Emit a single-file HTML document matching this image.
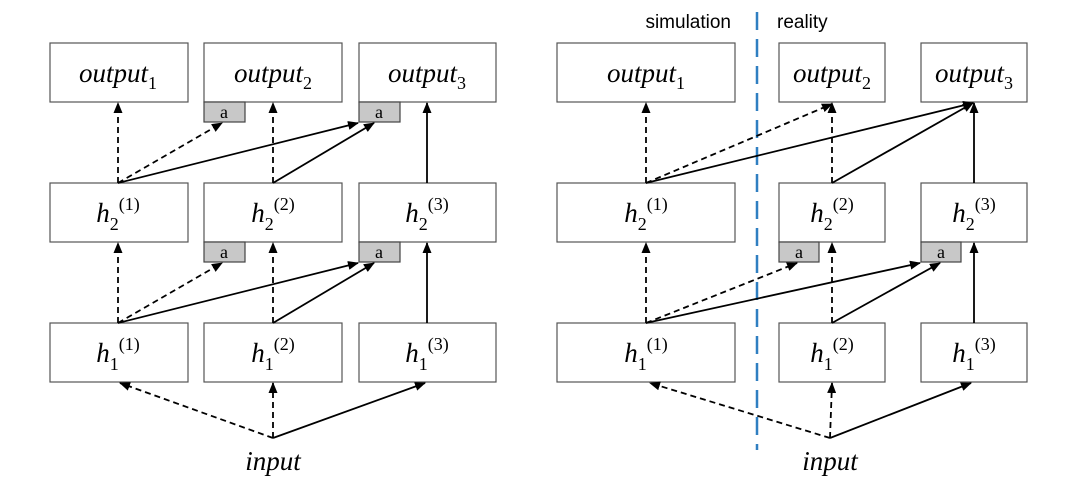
<!DOCTYPE html>
<html><head><style>
body{margin:0;background:#fff;}
svg{display:block;}
.b{fill:#fff;stroke:#555;stroke-width:1.2;}
.a{fill:#c8c8c8;stroke:#444;stroke-width:1.2;}
.s{stroke:#000;stroke-width:1.8;fill:none;marker-end:url(#ah);}
.d{stroke:#000;stroke-width:1.8;fill:none;stroke-dasharray:6,4;marker-end:url(#ah);}
.t{font-family:"Liberation Serif",serif;font-style:italic;font-size:27px;text-anchor:middle;}
.sub{font-style:normal;font-size:18px;}
.sup{font-style:normal;font-size:18px;}
.at{font-family:"Liberation Serif",serif;font-size:18px;text-anchor:middle;}
.lab{font-family:"Liberation Sans",sans-serif;font-size:19px;}
</style></head><body>
<svg width="1080" height="487" viewBox="0 0 1080 487">
<defs><marker id="ah" markerWidth="11" markerHeight="9" refX="10" refY="4.5" orient="auto" markerUnits="userSpaceOnUse"><path d="M0,0L11,4.5L0,9z" fill="#000"/></marker></defs>

<!-- LEFT PANEL -->
<rect class="b" x="50" y="43" width="138" height="59"/>
<rect class="b" x="204" y="43" width="138" height="59"/>
<rect class="b" x="359" y="43" width="137" height="59"/>
<rect class="b" x="50" y="183" width="138" height="59"/>
<rect class="b" x="204" y="183" width="138" height="59"/>
<rect class="b" x="359" y="183" width="137" height="59"/>
<rect class="b" x="50" y="323" width="138" height="59"/>
<rect class="b" x="204" y="323" width="138" height="59"/>
<rect class="b" x="359" y="323" width="137" height="59"/>
<rect class="a" x="204" y="102" width="41" height="20"/><text class="at" x="224" y="118">a</text>
<rect class="a" x="359" y="102" width="41" height="20"/><text class="at" x="379" y="118">a</text>
<rect class="a" x="204" y="242" width="41" height="20"/><text class="at" x="224" y="258">a</text>
<rect class="a" x="359" y="242" width="41" height="20"/><text class="at" x="379" y="258">a</text>

<text class="t" x="118" y="82">output<tspan class="sub" dy="7">1</tspan></text>
<text class="t" x="273" y="82">output<tspan class="sub" dy="7">2</tspan></text>
<text class="t" x="427" y="82">output<tspan class="sub" dy="7">3</tspan></text>
<text class="t" x="118" y="222">h<tspan class="sub" dy="8">2</tspan><tspan class="sup" dy="-20">(1)</tspan></text>
<text class="t" x="273" y="222">h<tspan class="sub" dy="8">2</tspan><tspan class="sup" dy="-20">(2)</tspan></text>
<text class="t" x="427" y="222">h<tspan class="sub" dy="8">2</tspan><tspan class="sup" dy="-20">(3)</tspan></text>
<text class="t" x="118" y="362">h<tspan class="sub" dy="8">1</tspan><tspan class="sup" dy="-20">(1)</tspan></text>
<text class="t" x="273" y="362">h<tspan class="sub" dy="8">1</tspan><tspan class="sup" dy="-20">(2)</tspan></text>
<text class="t" x="427" y="362">h<tspan class="sub" dy="8">1</tspan><tspan class="sup" dy="-20">(3)</tspan></text>
<text class="t" x="273" y="470">input</text>

<line class="d" x1="118" y1="183" x2="118" y2="103"/>
<line class="d" x1="118" y1="183" x2="222" y2="123"/>
<line class="s" x1="118" y1="183" x2="358" y2="123"/>
<line class="d" x1="273" y1="183" x2="273" y2="103"/>
<line class="s" x1="273" y1="183" x2="374" y2="123"/>
<line class="s" x1="427" y1="183" x2="427" y2="103"/>
<line class="d" x1="118" y1="323" x2="118" y2="243"/>
<line class="d" x1="118" y1="323" x2="222" y2="263"/>
<line class="s" x1="118" y1="323" x2="358" y2="263"/>
<line class="d" x1="273" y1="323" x2="273" y2="243"/>
<line class="s" x1="273" y1="323" x2="374" y2="263"/>
<line class="s" x1="427" y1="323" x2="427" y2="243"/>
<line class="d" x1="273" y1="438" x2="120" y2="383"/>
<line class="d" x1="273" y1="438" x2="273" y2="383"/>
<line class="s" x1="273" y1="438" x2="425" y2="383"/>

<!-- RIGHT PANEL -->
<text class="lab" x="731" y="28" text-anchor="end">simulation</text>
<text class="lab" x="777" y="28">reality</text>
<line x1="757" y1="12" x2="757" y2="450" stroke="#2f7fc1" stroke-width="2.5" stroke-dasharray="18,9"/>

<rect class="b" x="557" y="43" width="178" height="59"/>
<rect class="b" x="779" y="43" width="106" height="59"/>
<rect class="b" x="921" y="43" width="106" height="59"/>
<rect class="b" x="557" y="183" width="178" height="59"/>
<rect class="b" x="779" y="183" width="106" height="59"/>
<rect class="b" x="921" y="183" width="106" height="59"/>
<rect class="b" x="557" y="323" width="178" height="59"/>
<rect class="b" x="779" y="323" width="106" height="59"/>
<rect class="b" x="921" y="323" width="106" height="59"/>
<rect class="a" x="779" y="242" width="40" height="20"/><text class="at" x="799" y="258">a</text>
<rect class="a" x="921" y="242" width="40" height="20"/><text class="at" x="941" y="258">a</text>

<text class="t" x="646" y="82">output<tspan class="sub" dy="7">1</tspan></text>
<text class="t" x="832" y="82">output<tspan class="sub" dy="7">2</tspan></text>
<text class="t" x="974" y="82">output<tspan class="sub" dy="7">3</tspan></text>
<text class="t" x="646" y="222">h<tspan class="sub" dy="8">2</tspan><tspan class="sup" dy="-20">(1)</tspan></text>
<text class="t" x="832" y="222">h<tspan class="sub" dy="8">2</tspan><tspan class="sup" dy="-20">(2)</tspan></text>
<text class="t" x="974" y="222">h<tspan class="sub" dy="8">2</tspan><tspan class="sup" dy="-20">(3)</tspan></text>
<text class="t" x="646" y="362">h<tspan class="sub" dy="8">1</tspan><tspan class="sup" dy="-20">(1)</tspan></text>
<text class="t" x="832" y="362">h<tspan class="sub" dy="8">1</tspan><tspan class="sup" dy="-20">(2)</tspan></text>
<text class="t" x="974" y="362">h<tspan class="sub" dy="8">1</tspan><tspan class="sup" dy="-20">(3)</tspan></text>
<text class="t" x="830" y="470">input</text>

<line class="d" x1="646" y1="183" x2="646" y2="103"/>
<line class="d" x1="646" y1="183" x2="832" y2="104"/>
<line class="s" x1="646" y1="183" x2="973" y2="103"/>
<line class="d" x1="832" y1="183" x2="832" y2="103"/>
<line class="s" x1="832" y1="183" x2="973" y2="103"/>
<line class="s" x1="974" y1="183" x2="974" y2="103"/>
<line class="d" x1="646" y1="323" x2="646" y2="243"/>
<line class="d" x1="646" y1="323" x2="797" y2="263"/>
<line class="s" x1="646" y1="323" x2="920" y2="263"/>
<line class="d" x1="832" y1="323" x2="832" y2="243"/>
<line class="s" x1="832" y1="323" x2="940" y2="263"/>
<line class="s" x1="974" y1="323" x2="974" y2="243"/>
<line class="d" x1="830" y1="438" x2="650" y2="383"/>
<line class="d" x1="830" y1="438" x2="832" y2="383"/>
<line class="s" x1="830" y1="438" x2="971" y2="383"/>
</svg>
</body></html>
